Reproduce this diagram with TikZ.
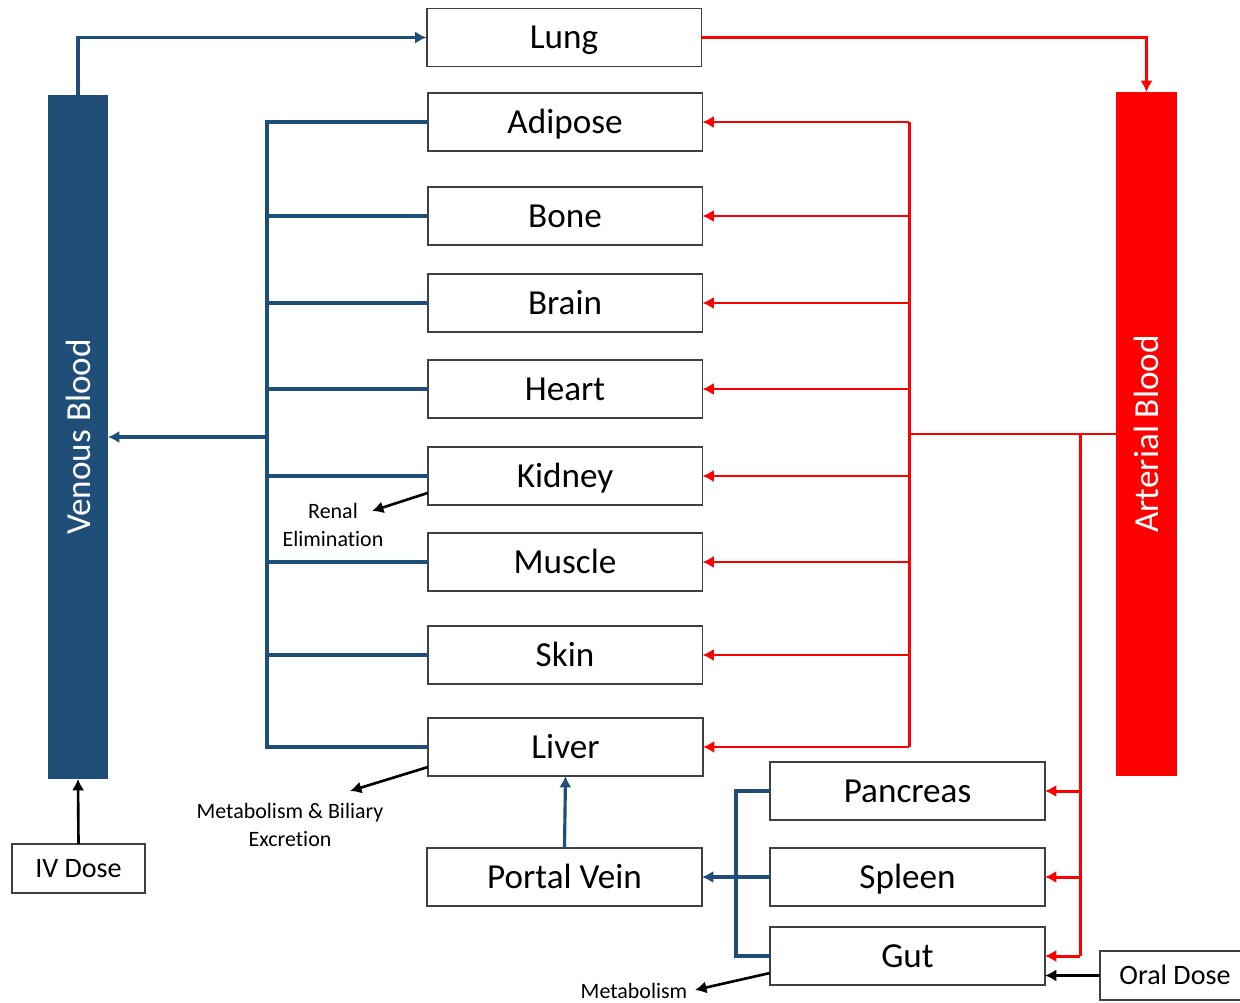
\documentclass[tikz,border=0pt]{standalone}
\usepackage{fontspec}
\setmainfont{Carlito}[Ligatures={NoCommon}]
\usetikzlibrary{arrows.meta}
\definecolor{venblue}{HTML}{1F4E79}
\definecolor{artred}{HTML}{FF0000}
\definecolor{boxgray}{HTML}{404040}
\tikzset{
  organ/.style={draw=boxgray, line width=1.1pt, fill=white, minimum width=5.5cm, minimum height=1.16cm, inner sep=0pt, outer sep=0pt, text height=17pt, text depth=4pt, font=\fontsize{20}{24}\selectfont},
  dosebox/.style={draw=boxgray, line width=1.1pt, fill=white, minimum height=0.98cm, inner sep=0pt, outer sep=0pt, text height=13.6pt, text depth=3.2pt, font=\fontsize{16}{19}\selectfont},
  bar/.style={minimum width=1.2cm, minimum height=13.68cm, inner sep=0pt, outer sep=0pt},
  barlabel/.style={rotate=90, text=white, font=\fontsize{20}{24}\selectfont},
  note/.style={align=center, font=\fontsize{12.5}{15.5}\selectfont, inner sep=0pt},
  blu/.style={draw=venblue, line width=1.8pt},
  rd/.style={draw=artred, line width=1.7pt},
  blk/.style={draw=black, line width=1.5pt},
  tip/.style={-{Latex[length=6.5pt,width=7pt]}}
}
\begin{document}
\begin{tikzpicture}[x=0.02cm,y=-0.02cm]
\useasboundingbox (0,0) rectangle (1240,1003);
\fill[white] (0,0) rectangle (1240,1003);

% bars
\node[bar, fill=venblue] (ven) at (78,437) {};
\node[barlabel] (venlab) at (ven) {Venous Blood};
\node[bar, fill=artred, minimum width=1.22cm] (art) at (1146.5,434) {};
\node[barlabel] (artlab) at (art) {Arterial Blood};

% organs
\node[organ] (lung) at (564,37.5) {Lung};
\node[organ] (adipose) at (565,122) {Adipose};
\node[organ] (bone) at (565,216) {Bone};
\node[organ] (brain) at (565,303) {Brain};
\node[organ] (heart) at (565,389) {Heart};
\node[organ] (kidney) at (565,476) {Kidney};
\node[organ] (muscle) at (565,562) {Muscle};
\node[organ] (skin) at (565,655) {Skin};
\node[organ] (liver) at (565.5,747) {Liver};
\node[organ] (portal) at (564.5,877) {Portal Vein};
\node[organ] (pancreas) at (907.5,791) {Pancreas};
\node[organ] (spleen) at (907.5,877) {Spleen};
\node[organ] (gut) at (907.5,956) {Gut};

% doses
\node[dosebox, minimum width=2.66cm] (iv) at (78.5,868.5) {IV Dose};
\node[dosebox, minimum width=3cm] (oral) at (1175,975.5) {Oral Dose};

% notes
\node[note] (renal) at (333,525) {Renal\\Elimination};
\node[note] (biliary) at (290,825) {Metabolism \& Biliary\\Excretion};
\node[note] (gutmet) at (634,991) {Metabolism};

% lung loop
\draw[blu, tip] (ven.north) |- (lung.west);
\draw[rd, tip] (lung.east) -| (art.north);

% venous collector
\coordinate (bt) at (267,122);
\coordinate (bb) at (267,747);
\coordinate (bm) at (267,437);
\draw[blu] (adipose.west) -- (bt) -- (bb) -- (liver.west);
\foreach \o in {bone,brain,heart,kidney,muscle,skin}
  \draw[blu] (\o.west) -- (\o.west -| bt);
\draw[blu, tip] (bm) -- (bm -| ven.east);

% arterial distributor
\coordinate (rt) at (909,122);
\coordinate (rb) at (909,747);
\coordinate (rm) at (909,434);
\draw[rd] (rt) -- (rb);
\foreach \o in {adipose,bone,brain,heart,kidney,muscle,skin,liver}
  \draw[rd, tip] (\o.east -| rt) -- (\o.east);
\draw[rd] (art.west) -- (rm);
\coordinate (r2) at (1080,434);
\draw[rd] (r2) -- (r2 |- gut.east);
\foreach \o in {pancreas,spleen,gut}
  \draw[rd, tip] (\o.east -| r2) -- (\o.east);

% splanchnic
\coordinate (gc) at (736,791);
\draw[blu] (pancreas.west) -- (pancreas.west -| gc) -- (gut.west -| gc) -- (gut.west);
\draw[blu, tip] (spleen.west) -- (portal.east);
\draw[blu, tip] (portal.north) -- (liver.south);

% elimination arrows
\coordinate (renalend) at (372,511);
\coordinate (biliend) at (350,791);
\coordinate (gutend) at (695,990);
\draw[blk, tip] ([yshift=-0.34cm]kidney.west) -- (renalend);
\draw[blk, tip] ([yshift=-0.4cm]liver.west) -- (biliend);
\draw[blk, tip] ([yshift=-0.34cm]gut.west) -- (gutend);

% doses
\draw[blk, tip] (iv.north) -- (ven.south);
\draw[blk, tip] (oral.west) -- (oral.west -| gut.east);
\end{tikzpicture}
\end{document}
